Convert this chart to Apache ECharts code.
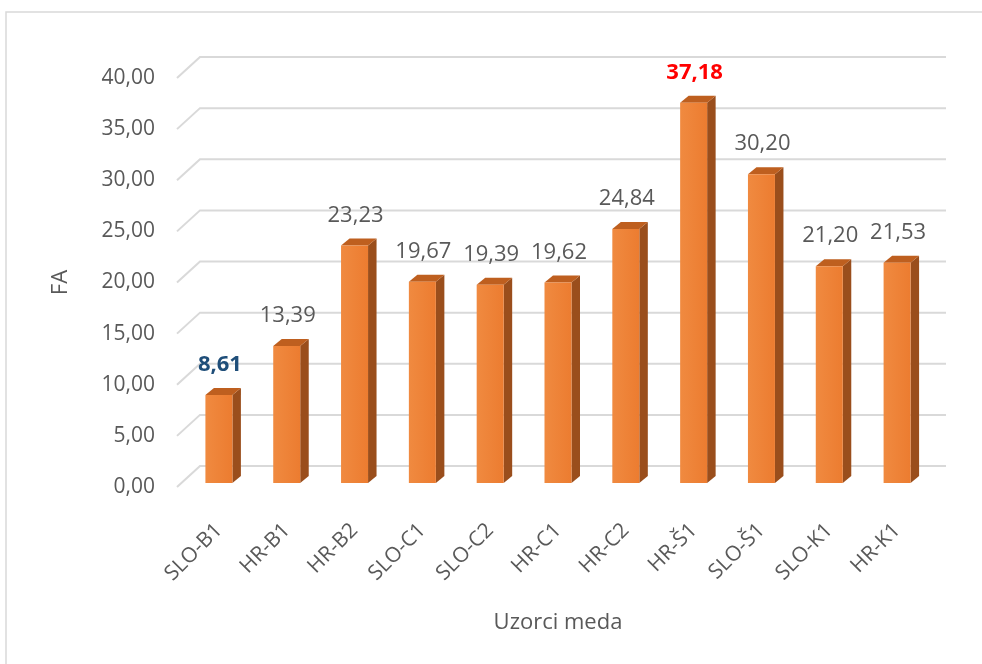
<!DOCTYPE html>
<html>
<head>
<meta charset="utf-8">
<script src="https://cdn.jsdelivr.net/npm/echarts@6/dist/echarts.min.js"></script>
<style>
html,body{margin:0;padding:0;background:#fff;}
#chart{width:982px;height:664px;}
</style>
</head>
<body>
<div id="chart"></div>
<script>
var categories = ['SLO-B1','HR-B1','HR-B2','SLO-C1','SLO-C2','HR-C1','HR-C2','HR-Š1','SLO-Š1','SLO-K1','HR-K1'];
var values = [8.61, 13.39, 23.23, 19.67, 19.39, 19.62, 24.84, 37.18, 30.20, 21.20, 21.53];
var yTicks = [0, 5, 10, 15, 20, 25, 30, 35, 40];

var FONT = 'Open Sans';
var fmt = function (v) { return v.toFixed(2).replace('.', ','); };
var maxIdx = values.indexOf(Math.max.apply(null, values));
var minIdx = values.indexOf(Math.min.apply(null, values));

var chart = echarts.init(document.getElementById('chart'));
chart.setOption({
  backgroundColor: '#fff',
  animation: false,
  graphic: [{
    type: 'rect', silent: true, z: -10,
    shape: { x: 6, y: 12, width: 1000, height: 700 },
    style: { fill: 'none', stroke: '#D9D9D9', lineWidth: 1.5 }
  }],
  grid: { left: 185, right: 51, top: 78, bottom: 177 },
  xAxis: {
    type: 'category',
    data: categories,
    axisLine: { show: false },
    axisTick: { show: false },
    axisLabel: { rotate: 45, margin: 40, color: '#595959', fontFamily: FONT, fontSize: 21, interval: 0 },
    name: 'Uzorci meda',
    nameLocation: 'middle',
    nameGap: 125,
    nameTextStyle: { color: '#595959', fontFamily: FONT, fontSize: 22 }
  },
  yAxis: {
    type: 'value',
    min: 0, max: 40, interval: 5,
    splitLine: { show: false },
    axisLine: { show: false },
    axisTick: { show: false },
    axisLabel: { margin: 30, color: '#595959', fontFamily: FONT, fontSize: 21, formatter: fmt },
    name: 'FA',
    nameLocation: 'middle',
    nameGap: 113,
    nameTextStyle: { color: '#595959', fontFamily: FONT, fontSize: 22 }
  },
  series: [{
    type: 'custom',
    z: 1,
    silent: true,
    data: yTicks.map(function (v) { return [0, v]; }),
    renderItem: function (params, api) {
      var cs = params.coordSys;
      var y = api.coord([0, api.value(1)])[1];
      return {
        type: 'polyline',
        shape: { points: [[cs.x - 8, y], [cs.x + 15, y - 21], [cs.x + cs.width + 15, y - 21]] },
        style: { stroke: '#D9D9D9', lineWidth: 2, fill: null }
      };
    }
  }, {
    type: 'custom',
    z: 5,
    data: values.map(function (v, i) { return [i, v]; }),
    renderItem: function (params, api) {
      var idx = api.value(0);
      var top = api.coord([idx, api.value(1)]);
      var base = api.coord([idx, 0]);
      var cx = top[0];
      var hw = 13.5, dx = 8.5, dy = 7, off = 4;
      var ty = top[1] - off, by = base[1] - off;
      var labelStyle = { fill: '#595959', fontWeight: 'normal' };
      if (params.dataIndex === maxIdx) labelStyle = { fill: '#FF0000', fontWeight: 'bold' };
      if (params.dataIndex === minIdx) labelStyle = { fill: '#1F4E79', fontWeight: 'bold' };
      return {
        type: 'group',
        children: [{
          type: 'polygon',
          shape: { points: [[cx + hw, ty], [cx + hw + dx, ty - dy], [cx + hw + dx, by - dy], [cx + hw, by]] },
          style: { fill: '#9A4E1C' }
        }, {
          type: 'polygon',
          shape: { points: [[cx - hw, ty], [cx - hw + dx, ty - dy], [cx + hw + dx, ty - dy], [cx + hw, ty]] },
          style: { fill: '#BE5F1F' }
        }, {
          type: 'rect',
          shape: { x: cx - hw, y: ty, width: hw * 2, height: by - ty },
          style: {
            fill: new echarts.graphic.LinearGradient(0, 0, 1, 0, [
              { offset: 0, color: '#F08A40' }, { offset: 1, color: '#EC7C30' }
            ])
          }
        }, {
          type: 'text',
          style: {
            x: cx + 1, y: ty - dy - 23,
            text: fmt(api.value(1)),
            align: 'center', verticalAlign: 'middle',
            fontFamily: FONT, fontSize: 22,
            fill: labelStyle.fill, fontWeight: labelStyle.fontWeight
          }
        }]
      };
    }
  }]
});
</script>
</body>
</html>
